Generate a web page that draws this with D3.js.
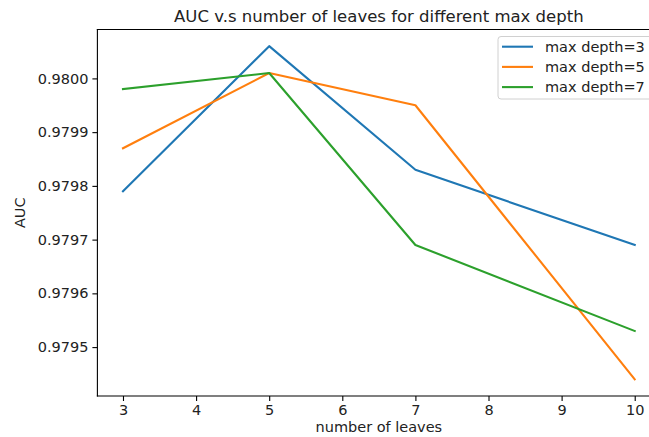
<!DOCTYPE html>
<html>
<head>
<meta charset="utf-8">
<script src="https://cdn.jsdelivr.net/npm/d3@7"></script>
<style>
  html, body { margin: 0; padding: 0; background: #fff; }
  svg { display: block; font-family: "DejaVu Sans", sans-serif; }
</style>
</head>
<body>
<svg id="chart" width="649" height="437"></svg>
<script>
// Number of leaves tried for each tree depth
const leaves = [3, 5, 7, 10];
const xTicks = [3, 4, 5, 6, 7, 8, 9, 10];
const yTicks = [0.9795, 0.9796, 0.9797, 0.9798, 0.9799, 0.9800];

// AUC per max depth setting
const depth3 = [0.97979, 0.98006, 0.97983, 0.97969];
const depth5 = [0.97987, 0.98001, 0.97995, 0.97944];
const depth7 = [0.97998, 0.98001, 0.97969, 0.97953];

const seriesNames = ["max depth=3", "max depth=5", "max depth=7"];
const seriesColors = ["#1f77b4", "#ff7f0e", "#2ca02c"];
const seriesValues = [depth3, depth5, depth7];

(function () {
  const svg = d3.select("#chart");
  const pLeft = 97.4, pRight = 660.3, pTop = 29.5, pBottom = 396;
  const fs = 14.5;

  // Axis limits padded by 5% on each side
  const xMin = d3.min(leaves), xMax = d3.max(leaves);
  const xPad = (xMax - xMin) * 0.05;
  const allY = seriesValues.flat();
  const yMin = d3.min(allY), yMax = d3.max(allY);
  const yPad = (yMax - yMin) * 0.05;

  const x = d3.scaleLinear().domain([xMin - xPad, xMax + xPad]).range([pLeft, pRight]);
  const y = d3.scaleLinear().domain([yMin - yPad, yMax + yPad]).range([pBottom, pTop]);

  // Series lines
  const line = d3.line().x((d, i) => x(leaves[i])).y(d => y(d));
  seriesValues.forEach((vals, k) => {
    svg.append("path")
      .datum(vals)
      .attr("d", line)
      .attr("fill", "none")
      .attr("stroke", seriesColors[k])
      .attr("stroke-width", 2.1)
      .attr("stroke-linejoin", "round")
      .attr("stroke-linecap", "square");
  });

  // Axes
  const xAxis = svg.append("g")
    .attr("transform", `translate(0,${pBottom})`)
    .call(d3.axisBottom(x).tickValues(xTicks).tickFormat(d3.format("d")).tickSizeInner(5).tickSizeOuter(0).tickPadding(4));
  const yAxis = svg.append("g")
    .attr("transform", `translate(${pLeft},0)`)
    .call(d3.axisLeft(y).tickValues(yTicks).tickFormat(d3.format(".4f")).tickSizeInner(5).tickSizeOuter(0).tickPadding(4));

  [xAxis, yAxis].forEach(g => {
    g.select(".domain").remove();
    g.selectAll(".tick line").attr("stroke", "#000").attr("stroke-width", 1.1);
    g.selectAll(".tick text").attr("fill", "#222").style("font-size", fs + "px").style("font-family", "DejaVu Sans");
  });

  // Frame around the plot area
  [[pLeft, pTop, pLeft, pBottom], [pLeft, pBottom, pRight, pBottom], [pLeft, pTop, pRight, pTop], [pRight, pTop, pRight, pBottom]]
    .forEach(([x1, y1, x2, y2]) => {
      svg.append("line").attr("x1", x1).attr("y1", y1).attr("x2", x2).attr("y2", y2)
        .attr("stroke", "#000").attr("stroke-width", 1.1).attr("stroke-linecap", "square");
    });

  // Title and axis labels
  svg.append("text")
    .attr("x", (pLeft + pRight) / 2).attr("y", 21.5)
    .attr("text-anchor", "middle").attr("fill", "#222")
    .style("font-size", "16.5px")
    .text("AUC v.s number of leaves for different max depth");

  svg.append("text")
    .attr("x", (pLeft + pRight) / 2).attr("y", 432)
    .attr("text-anchor", "middle").attr("fill", "#222")
    .style("font-size", fs + "px")
    .text("number of leaves");

  svg.append("text")
    .attr("transform", `translate(25,${(pTop + pBottom) / 2}) rotate(-90)`)
    .attr("text-anchor", "middle").attr("fill", "#222")
    .style("font-size", fs + "px")
    .text("AUC");

  // Legend
  const lg = svg.append("g");
  lg.append("rect")
    .attr("x", 498).attr("y", 36.5).attr("width", 155).attr("height", 62.5)
    .attr("rx", 3).attr("fill", "#fff").attr("fill-opacity", 0.8)
    .attr("stroke", "#d0d0d0").attr("stroke-width", 1);
  seriesNames.forEach((name, k) => {
    const yy = 46.7 + k * 20.2;
    lg.append("line").attr("x1", 502).attr("x2", 533).attr("y1", yy).attr("y2", yy)
      .attr("stroke", seriesColors[k]).attr("stroke-width", 2.1);
    lg.append("text").attr("x", 545).attr("y", yy + 5.2)
      .attr("fill", "#222").style("font-size", fs + "px").text(name);
  });
})();
</script>
</body>
</html>
